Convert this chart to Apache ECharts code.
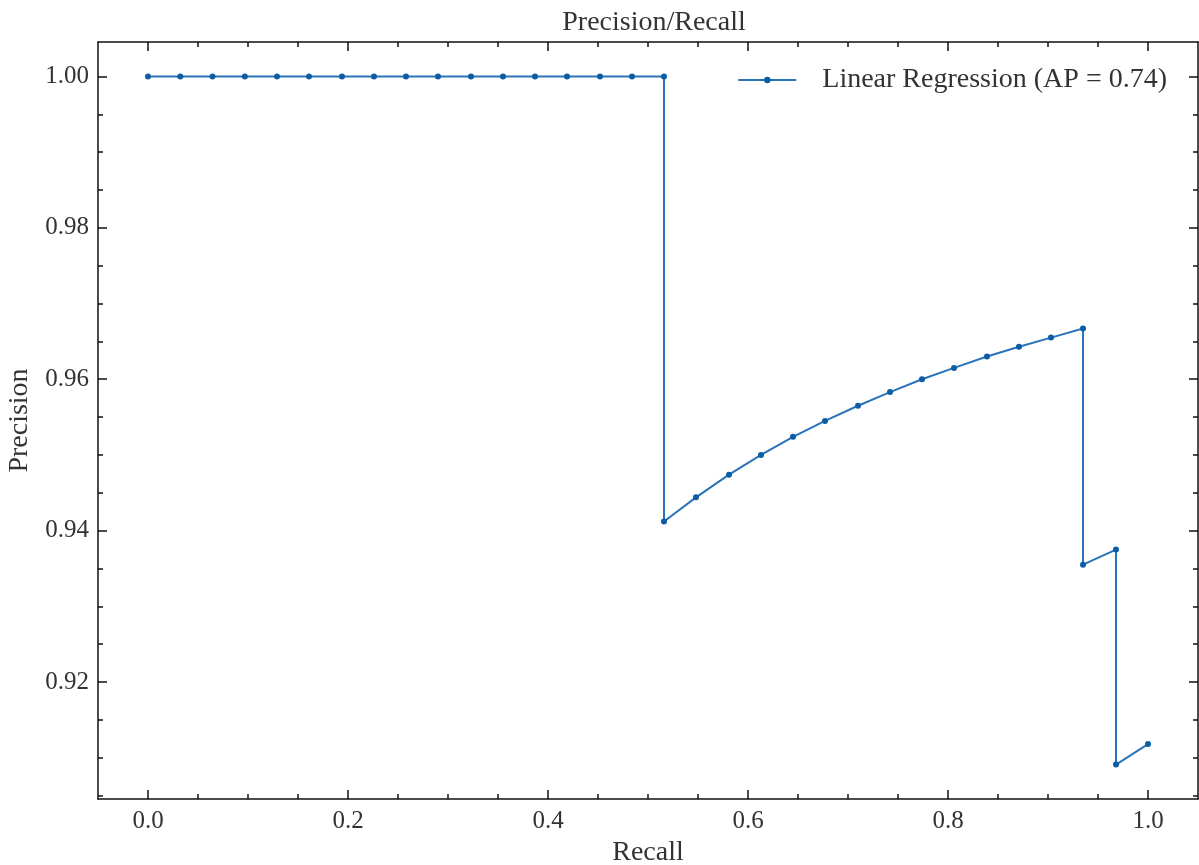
<!DOCTYPE html>
<html lang="en" style="height: 100%">
<head>
  <meta charset="utf-8">
</head>
<body style="height: 100%; margin: 0; background: #fff">
  <div id="container" style="width: 1199px; height: 865px"></div>

  <script type="text/javascript" src="https://cdn.jsdelivr.net/npm/echarts@6/dist/echarts.min.js"></script>
  <script type="text/javascript">
    // precision/recall points
    var recall = [
      0, 0.0323, 0.0645, 0.0968, 0.129, 0.161, 0.194, 0.226, 0.258, 0.290,
      0.323, 0.355, 0.387, 0.419, 0.452, 0.484, 0.516,
      0.516, 0.548, 0.581, 0.613, 0.645, 0.677, 0.710, 0.742, 0.774,
      0.806, 0.839, 0.871, 0.903, 0.935,
      0.935, 0.968, 0.968, 1.0
    ];
    var precision = [
      1, 1, 1, 1, 1, 1, 1, 1, 1, 1,
      1, 1, 1, 1, 1, 1, 1,
      0.9412, 0.9444, 0.9474, 0.95, 0.9524, 0.9545, 0.9565, 0.9583, 0.96,
      0.9615, 0.963, 0.9643, 0.9655, 0.9667,
      0.9355, 0.9375, 0.9091, 0.9118
    ];
    var seriesName = 'Linear Regression (AP = 0.74)';

    // tick positions
    var xMajor = [0, 0.2, 0.4, 0.6, 0.8, 1.0];
    var xMinor = [0.05, 0.1, 0.15, 0.25, 0.3, 0.35, 0.45, 0.5, 0.55, 0.65, 0.7, 0.75, 0.85, 0.9, 0.95];
    var yMajor = [0.92, 0.94, 0.96, 0.98, 1.00];
    var yMinor = [0.905, 0.91, 0.915, 0.925, 0.93, 0.935, 0.945, 0.95, 0.955,
                  0.965, 0.97, 0.975, 0.985, 0.99, 0.995];

    var FONT = 'Liberation Serif';
    var TXT = '#333';
    var xRange = [-0.05, 1.05];
    var yRange = [0.90455, 1.00455];

    var dom = document.getElementById('container');
    var myChart = echarts.init(dom, null, { renderer: 'canvas' });

    function xAx(pos, ticks, len, labels, line) {
      return {
        type: 'value',
        position: pos,
        min: xRange[0],
        max: xRange[1],
        splitLine: { show: false },
        axisLine: { show: line, onZero: false, lineStyle: { color: '#111', width: 1.5 } },
        axisTick: { show: true, inside: true, length: len, customValues: ticks,
                    lineStyle: { color: '#111', width: 1.5 } },
        axisLabel: labels ? {
          show: true, customValues: ticks, margin: 10,
          fontFamily: FONT, fontSize: 25, color: TXT,
          formatter: function (v) { return v.toFixed(1); }
        } : { show: false }
      };
    }
    function yAx(pos, ticks, len, labels, line) {
      return {
        type: 'value',
        position: pos,
        min: yRange[0],
        max: yRange[1],
        splitLine: { show: false },
        axisLine: { show: line, onZero: false, lineStyle: { color: '#111', width: 1.5 } },
        axisTick: { show: true, inside: true, length: len, customValues: ticks,
                    lineStyle: { color: '#111', width: 1.5 } },
        axisLabel: labels ? {
          show: true, customValues: ticks, margin: 9,
          fontFamily: FONT, fontSize: 25, color: TXT,
          formatter: function (v) { return v.toFixed(2); }
        } : { show: false }
      };
    }

    var xMain = xAx('bottom', xMajor, 9, true, true);
    xMain.name = 'Recall';
    xMain.nameLocation = 'middle';
    xMain.nameGap = 36;
    xMain.nameTextStyle = { fontFamily: FONT, fontSize: 28, color: TXT };

    var yMain = yAx('left', yMajor, 9, true, true);
    yMain.name = 'Precision';
    yMain.nameLocation = 'middle';
    yMain.nameGap = 64;
    yMain.nameTextStyle = { fontFamily: FONT, fontSize: 28, color: TXT };

    var option = {
      animation: false,
      backgroundColor: '#fff',
      title: {
        text: 'Precision/Recall',
        left: 649,
        textAlign: 'center',
        top: 4,
        textStyle: { fontFamily: FONT, fontSize: 28, fontWeight: 'normal', color: TXT }
      },
      legend: {
        right: 27,
        top: 61,
        itemWidth: 58,
        itemHeight: 8,
        itemGap: 10,
        textStyle: { fontFamily: FONT, fontSize: 28, color: TXT, padding: [0, 0, 0, 21] },
        data: [seriesName]
      },
      grid: { left: 98, right: 1, top: 42, height: 757, containLabel: false, outerBoundsMode: 'none' },
      xAxis: [
        xMain,
        xAx('bottom', xMinor, 5, false, false),
        xAx('top', xMajor, 9, false, true),
        xAx('top', xMinor, 5, false, false)
      ],
      yAxis: [
        yMain,
        yAx('left', yMinor, 5, false, false),
        yAx('right', yMajor, 9, false, true),
        yAx('right', yMinor, 5, false, false)
      ],
      series: [{
        name: seriesName,
        type: 'line',
        xAxisIndex: 0,
        yAxisIndex: 0,
        data: recall.map(function (r, i) { return [r, precision[i]]; }),
        symbol: 'circle',
        symbolSize: 6,
        showSymbol: true,
        color: '#1a64ab',
        lineStyle: { width: 2, color: '#2a73ba' },
        itemStyle: { color: '#0C5DA5' }
      }]
    };

    myChart.setOption(option);
    window.addEventListener('resize', myChart.resize);
  </script>
</body>
</html>
